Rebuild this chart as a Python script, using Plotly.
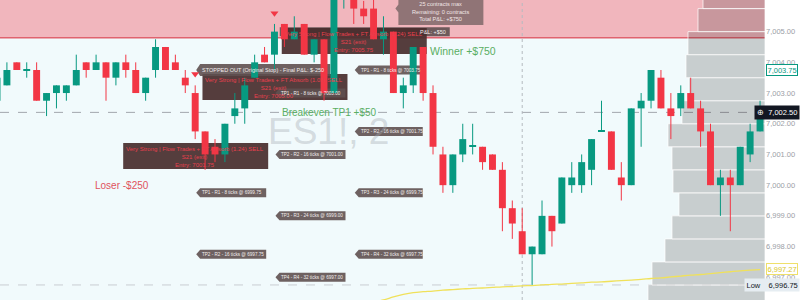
import plotly.graph_objects as go

# ---------------- data ----------------
opens = [7002.75, 7003.25, 7004.0, 7003.75, 7003.75, 7002.75, 7003.0, 7003.0, 7003.25, 7004.0,
         7003.75, 7004.0, 7003.5, 7004.0, 7003.75, 7003.0, 7003.75, 7004.5, 7004.0, 7003.5,
         7003.0, 7001.75, 7001.25, 7001.0, 7002.25, 7002.5, 7003.5, 7004.25, 7004.25, 7005.25,
         7004.75, 7005.25, 7004.25, 7004.75, 7003.0, 7006.25, 7006.25, 7005.75, 7005.75, 7004.75,
         7005.0, 7003.0, 7003.25, 7004.5, 7003.0, 7001.0, 7000.0, 7001.0, 7001.25, 7001.25,
         7001.0, 7000.5, 6999.25, 6998.5, 6997.75, 6997.75, 6999.0, 6998.75, 7000.0, 7000.0,
         7000.5, 7001.75, 7001.75, 7000.25, 7000.0, 7002.5, 7002.75, 7003.5, 7002.5, 7002.5,
         7003.0, 7002.5, 7001.75, 7000.0, 7000.25, 7000.0, 7001.0, 7001.75]
highs = [7003.5, 7004.0, 7004.0, 7004.0, 7004.0, 7003.0, 7003.25, 7003.25, 7004.25, 7004.0,
         7004.25, 7004.0, 7004.0, 7004.25, 7004.0, 7003.5, 7004.75, 7004.5, 7004.25, 7003.75,
         7003.25, 7001.75, 7001.5, 7002.0, 7003.0, 7003.5, 7004.25, 7004.5, 7005.25, 7005.25,
         7005.5, 7005.25, 7004.75, 7004.75, 7006.5, 7006.75, 7006.5, 7006.0, 7006.25, 7005.5,
         7005.0, 7003.5, 7004.5, 7004.5, 7003.25, 7001.25, 7001.0, 7002.0, 7002.0, 7001.25,
         7001.0, 7000.75, 6999.5, 6999.25, 6998.0, 6999.5, 6999.0, 7000.25, 7000.75, 7001.0,
         7001.5, 7002.75, 7001.75, 7000.75, 7002.5, 7003.0, 7003.75, 7003.75, 7003.0, 7003.25,
         7003.5, 7002.75, 7002.0, 7000.5, 7000.5, 7001.25, 7002.0, 7002.75]
lows = [7002.5, 7003.25, 7003.75, 7003.5, 7002.75, 7002.25, 7002.5, 7002.75, 7003.25, 7003.5,
        7003.75, 7002.75, 7003.25, 7003.5, 7003.0, 7002.75, 7003.5, 7003.75, 7003.75, 7003.0,
        7001.5, 7000.5, 7000.75, 7000.75, 7002.0, 7002.0, 7003.5, 7004.0, 7003.75, 7004.5,
        7004.75, 7004.25, 7004.0, 7002.75, 7003.0, 7005.75, 7005.25, 7005.25, 7004.75, 7004.25,
        7003.0, 7002.5, 7003.0, 7002.75, 7001.0, 6999.75, 6999.75, 7000.75, 7001.0, 7000.5,
        7000.5, 6998.5, 6998.25, 6997.75, 6996.75, 6997.75, 6998.0, 6998.75, 6999.75, 6999.75,
        7000.0, 7001.75, 7000.5, 6999.5, 7000.0, 7001.25, 7002.5, 7002.5, 7001.5, 7002.25,
        7002.5, 7001.25, 7000.0, 6999.0, 6998.5, 7000.0, 7000.75, 7001.75]
closes = [7003.5, 7003.75, 7003.75, 7003.75, 7002.75, 7003.0, 7003.25, 7003.25, 7003.75, 7003.75,
          7004.0, 7003.5, 7004.0, 7003.75, 7003.0, 7003.5, 7004.5, 7003.75, 7003.75, 7003.25,
          7001.75, 7001.0, 7001.0, 7002.0, 7002.5, 7003.25, 7004.0, 7004.0, 7005.0, 7004.75,
          7005.0, 7004.25, 7004.75, 7003.0, 7006.25, 7006.5, 7005.75, 7005.5, 7004.75, 7005.0,
          7003.0, 7003.25, 7004.5, 7003.0, 7001.25, 7000.0, 7001.0, 7001.5, 7001.25, 7000.75,
          7000.5, 6999.25, 6998.75, 6997.75, 6998.0, 6999.0, 6998.5, 7000.25, 7000.25, 7000.75,
          7001.5, 7001.75, 7000.5, 7000.0, 7002.5, 7002.75, 7003.75, 7002.5, 7002.25, 7003.0,
          7002.5, 7001.75, 7000.0, 7000.25, 7000.0, 7001.25, 7001.75, 7002.5]
bar_index = list(range(len(opens)))

# moving average (yellow)
ma_index = list(range(38, 78))
ma_values = [6996.20, 6996.26, 6996.36, 6996.44, 6996.50, 6996.53, 6996.55, 6996.58, 6996.60, 6996.62,
             6996.64, 6996.65, 6996.67, 6996.69, 6996.70, 6996.72, 6996.73, 6996.75, 6996.77, 6996.78,
             6996.80, 6996.82, 6996.84, 6996.85, 6996.87, 6996.89, 6996.91, 6996.93, 6996.96, 6996.98,
             6997.01, 6997.04, 6997.07, 6997.09, 6997.12, 6997.15, 6997.18, 6997.21, 6997.23, 6997.25]

# volume profile rows (centre price) and volumes
vp_price = [6996.375, 6997.125, 6997.875, 6998.625, 6999.375, 7000.125, 7000.875,
            7001.625, 7002.375, 7003.125, 7003.875, 7004.625, 7005.375, 7006.125]
vp_volume = [117, 113, 100, 93, 86, 92, 93, 97, 83, 76, 79, 77, 67, 62]

# trades
trade_bar = [20, 28, 36]
trade_entry = [7001.75, 7005.00, 7005.75]
trade_ratio = ["1.24", "1.03", "1.24"]
signal_bar = [20, 28]
signal_price = [7003.62, 7005.60]

tp_trade = [0, 0, 1, 1, 1, 1, 2, 2, 2, 2]
tp_name = ["TP1 - R1 - 8 ticks", "TP2 - R2 - 16 ticks",
           "TP1 - R1 - 8 ticks", "TP2 - R2 - 16 ticks", "TP3 - R3 - 24 ticks", "TP4 - R4 - 32 ticks",
           "TP1 - R1 - 8 ticks", "TP2 - R2 - 16 ticks", "TP3 - R3 - 24 ticks", "TP4 - R4 - 32 ticks"]
tp_price = [6999.75, 6997.75, 7003.00, 7001.00, 6999.00, 6997.00, 7003.75, 7001.75, 6999.75, 6997.75]

stop_bar, stop_price = 20, 7003.75
be_bar, be_price = 36, 7005.00
summary_bar, summary_price = 40, 7005.75

zone_low, zone_high = 7004.8, 7006.5
crosshair_bar, crosshair_price = 53, 7002.37
low_price = 6996.75
last_price = 7003.75
ma_last = 6997.27

y_ticks = [6997, 6998, 6999, 7000, 7001, 7002, 7003, 7004, 7005, 7006]

# ---------------- styling ----------------
UP = "#089981"
DN = "#f23645"
FONT = "Liberation Sans"
BG = "#f1fafc"

fig = go.Figure()

# volume profile (main x axis, reversed)
fig.add_trace(go.Bar(
    x=vp_volume, y=vp_price, orientation="h", width=0.75,
    marker=dict(color="rgba(40,30,30,0.2)", line=dict(color="rgba(255,255,255,0.9)", width=0.8)),
    xaxis="x", yaxis="y", hoverinfo="skip", showlegend=False))

# candle bodies
body_base = [min(o, c) for o, c in zip(opens, closes)]
body_h = [max(abs(c - o), 0.03) for o, c in zip(opens, closes)]
body_col = [UP if c >= o else DN for o, c in zip(opens, closes)]
fig.add_trace(go.Bar(
    x=bar_index, y=body_h, base=body_base, width=0.7,
    marker=dict(color=body_col, line=dict(width=0)),
    xaxis="x2", yaxis="y", hoverinfo="skip", showlegend=False))

# wicks
for col, up in ((UP, True), (DN, False)):
    wx, wy = [], []
    for i in bar_index:
        if (closes[i] >= opens[i]) == up:
            wx += [i, i, None]
            wy += [lows[i], highs[i], None]
    fig.add_trace(go.Scatter(x=wx, y=wy, mode="lines", line=dict(color=col, width=1),
                             xaxis="x2", yaxis="y", hoverinfo="skip", showlegend=False))

# moving average
fig.add_trace(go.Scatter(x=ma_index, y=ma_values, mode="lines",
                         line=dict(color="#f0e15a", width=1.3, shape="spline"),
                         xaxis="x2", yaxis="y", hoverinfo="skip", showlegend=False))

# signal markers
fig.add_trace(go.Scatter(x=signal_bar, y=signal_price, mode="markers",
                         marker=dict(symbol="triangle-down", size=7, color=DN),
                         xaxis="x2", yaxis="y", hoverinfo="skip", showlegend=False))

shapes = []
ann = []

# red zone
shapes.append(dict(type="rect", xref="paper", x0=0, x1=1, yref="y", y0=zone_low, y1=zone_high,
                   fillcolor="#f1b6bd", line=dict(width=0), layer="below"))
shapes.append(dict(type="line", xref="paper", x0=0, x1=1, yref="y", y0=zone_low, y1=zone_low,
                   line=dict(color="#e0626e", width=1.5), layer="below"))
# low line, crosshair
shapes.append(dict(type="line", xref="paper", x0=0, x1=1, yref="y", y0=low_price, y1=low_price,
                   line=dict(color="#c9ced2", width=1, dash="dash"), layer="below"))
shapes.append(dict(type="line", xref="paper", x0=0, x1=1, yref="y", y0=crosshair_price, y1=crosshair_price,
                   line=dict(color="#a2a7ad", width=1, dash="dash"), layer="below"))
shapes.append(dict(type="line", xref="x2", x0=crosshair_bar, x1=crosshair_bar, yref="paper", y0=0, y1=1,
                   line=dict(color="#b5babf", width=1, dash="dot"), layer="below"))

DARK = "rgba(72,45,45,0.92)"
GREY = "rgba(95,80,80,0.9)"


def dark_box(t):
    i = trade_bar[t]
    shapes.append(dict(type="rect", xref="x2", xsizemode="pixel", xanchor=i, x0=-72, x1=73,
                       yref="y", ysizemode="pixel", yanchor=lows[i], y0=-4, y1=-30,
                       fillcolor=DARK, line=dict(width=0), layer="below"))
    ann.append(dict(xref="x2", yref="y", x=i, y=lows[i], yanchor="top", xanchor="center",
                    yshift=-5, showarrow=False, align="center",
                    text=f"Very Strong | Flow Trades + FT Absorb ({trade_ratio[t]}) SELL<br>S21 (exit)<br>Entry: {trade_entry[t]:.2f}",
                    font=dict(family=FONT, size=6, color="#e8404e")))


def grey_label(bar, price, text, w, h=4.5, size=4.6, color=GREY):
    shapes.append(dict(type="path", xref="x2", xsizemode="pixel", xanchor=bar,
                       yref="y", ysizemode="pixel", yanchor=price,
                       path=f"M 1 0 L 5 {h} L {w} {h} L {w} {-h} L 5 {-h} Z",
                       fillcolor=color, line=dict(width=0), layer="below"))
    ann.append(dict(xref="x2", yref="y", x=bar, y=price, xanchor="left", yanchor="middle",
                    xshift=5, showarrow=False, text=text,
                    font=dict(family=FONT, size=size, color="#f2eeee")))


dark_box(0)
dark_box(1)
for k in range(len(tp_trade)):
    if tp_trade[k] in (0, 1):
        grey_label(trade_bar[tp_trade[k]], tp_price[k], f"{tp_name[k]} @ {tp_price[k]:.2f}", 71)
grey_label(stop_bar, stop_price, "STOPPED OUT (Original Stop) - Final P&L: $-250", 135, h=6, size=5.5)

# breakeven exit label (mostly hidden under box)
shapes.append(dict(type="rect", xref="x2", xsizemode="pixel", xanchor=be_bar, x0=-74, x1=96,
                   yref="y", ysizemode="pixel", yanchor=be_price, y0=-4.5, y1=4.5,
                   fillcolor=GREY, line=dict(width=0), layer="below"))
ann.append(dict(xref="x2", yref="y", x=be_bar, y=be_price, xanchor="right", yanchor="middle",
                xshift=94, showarrow=False, text="P&L: +$50",
                font=dict(family=FONT, size=5.5, color="#f2eeee")))
dark_box(2)
for k in range(len(tp_trade)):
    if tp_trade[k] == 2:
        grey_label(trade_bar[2], tp_price[k], f"{tp_name[k]} @ {tp_price[k]:.2f}", 69)

# summary box
shapes.append(dict(type="path", xref="x2", xsizemode="pixel", xanchor=summary_bar,
                   yref="y", ysizemode="pixel", yanchor=summary_price,
                   path="M 2 0 L 5 4 L 5 40 L 90 40 L 90 -16.5 L 5 -16.5 L 5 -4 Z",
                   fillcolor="rgba(120,100,100,0.8)", line=dict(width=0), layer="below"))
ann.append(dict(xref="x2", yref="y", x=summary_bar, y=summary_price, xanchor="center", yanchor="bottom",
                xshift=47, yshift=-15, showarrow=False, align="center",
                text="ALL TARGETS HIT<br>25 contracts max<br>Remaining: 0 contracts<br>Total P&L: +$750",
                font=dict(family=FONT, size=5.6, color="#f0e6e6")))

# result texts
ann.append(dict(xref="x2", yref="y", x=47.0, y=7004.37, showarrow=False, text="Winner +$750",
                font=dict(family=FONT, size=10.5, color="#5aae63")))
ann.append(dict(xref="x2", yref="y", x=33.5, y=7002.37, showarrow=False, text="Breakeven TP1 +$50",
                font=dict(family=FONT, size=10, color="#5aae63")))
ann.append(dict(xref="x2", yref="y", x=12.6, y=7000.0, showarrow=False, text="Loser -$250",
                font=dict(family=FONT, size=10, color="#e0525c")))

# watermark
ann.append(dict(xref="paper", yref="paper", x=0.429, y=0.56, showarrow=False, text="ES1!, 2",
                font=dict(family=FONT, size=37, color="rgba(165,170,178,0.4)")))

# price-scale labels
ann.append(dict(xref="paper", yref="y", x=1, y=last_price, xanchor="left", xshift=1, showarrow=False,
                text=f"{last_price:,.2f}", bgcolor="#ffffff", bordercolor=UP, borderwidth=1, borderpad=0.5,
                font=dict(family=FONT, size=7.5, color=UP)))
ann.append(dict(xref="paper", yref="y", x=1, y=crosshair_price, xanchor="right", xshift=35, showarrow=False,
                text="⊕  7,002.50", bgcolor="#131722", borderpad=2,
                font=dict(family=FONT, size=7.5, color="#ffffff")))
ann.append(dict(xref="paper", yref="y", x=1, y=ma_last, xanchor="left", xshift=1, showarrow=False,
                text=f"{ma_last:,.2f}", bgcolor="#ffffff", bordercolor="#efe06a", borderwidth=1, borderpad=0.5,
                font=dict(family=FONT, size=7.5, color="#d8c62a")))
ann.append(dict(xref="paper", yref="y", x=1, y=low_price, xanchor="right", xshift=35, showarrow=False,
                text=f"Low    {low_price:,.2f}", bgcolor="#e6edf2", borderpad=1.5,
                font=dict(family=FONT, size=7.5, color="#131722")))

fig.update_layout(
    width=800, height=300, margin=dict(l=0, r=35, t=0, b=0),
    paper_bgcolor="#ffffff", plot_bgcolor=BG, barmode="overlay", showlegend=False,
    xaxis=dict(range=[765, 0], visible=False, fixedrange=True),
    xaxis2=dict(range=[0.303, 77.5], overlaying="x", visible=False, fixedrange=True),
    yaxis=dict(range=[6996.26, 7006.03], side="right", tickvals=y_ticks,
               ticktext=[f"{v:,.2f}" for v in y_ticks], showgrid=False, zeroline=False,
               ticks="", tickfont=dict(family=FONT, size=7.5, color="#9b9ea6"), fixedrange=True),
    shapes=shapes, annotations=ann,
)

fig.write_html("out.html")
